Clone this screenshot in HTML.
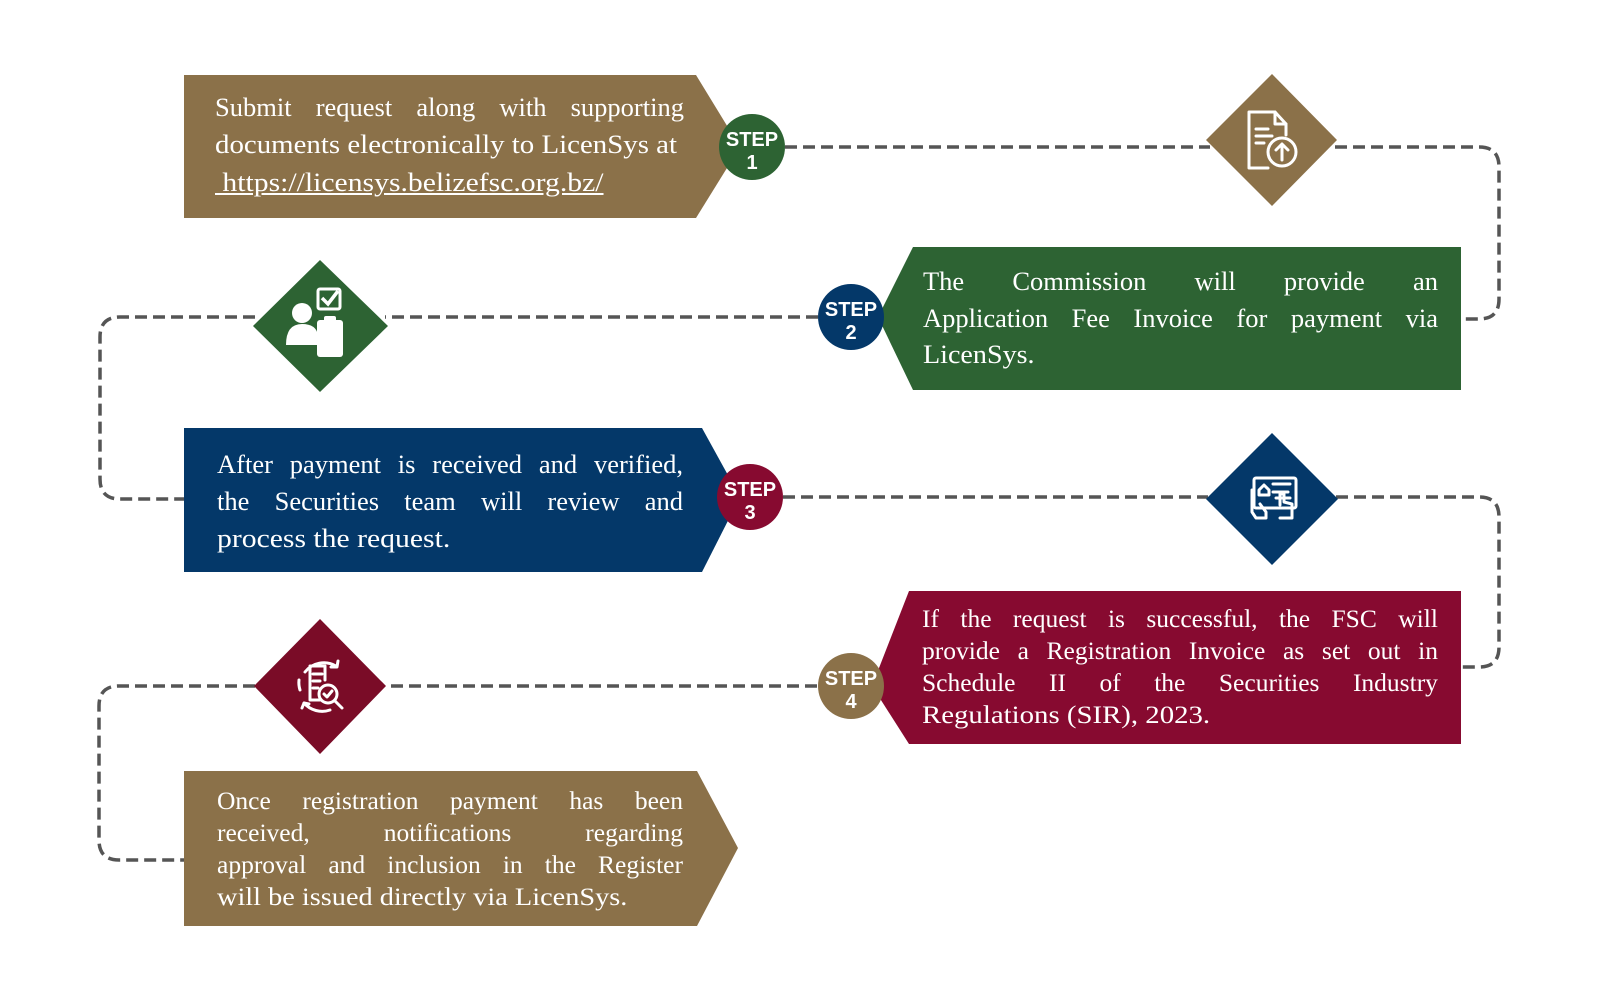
<!DOCTYPE html>
<html><head><meta charset="utf-8"><style>
html,body{margin:0;padding:0;background:#fff;}
#w{position:relative;width:1600px;height:1000px;overflow:hidden}
svg{display:block;position:absolute;left:0;top:0}
.s{font-family:"Liberation Sans",sans-serif;font-weight:bold;font-size:20px;fill:#fff;text-anchor:middle;}
.d{fill:none;stroke:#555;stroke-width:3.5;stroke-dasharray:12 6;}
.i{fill:none;stroke:#fff;stroke-width:3;stroke-linecap:round;stroke-linejoin:round;}
.l{position:absolute;height:30px;line-height:30px;font-family:"Liberation Serif",serif;color:#fff;white-space:nowrap;display:flex;justify-content:space-between}
.a{font-size:26.5px}
.b{font-size:25.5px}
.n{justify-content:flex-start;transform-origin:0 50%}
.n span{white-space:pre}
</style></head><body><div id="w">
<svg width="1600" height="1000" viewBox="0 0 1600 1000" xmlns="http://www.w3.org/2000/svg">
<path class="d" d="M785 147 H1210 M1335 147 H1479 Q1499 147 1499 167 V299 Q1499 319 1479 319 H1461"/>
<path class="d" d="M818 317 H385 M255 317 H120 Q100 317 100 337 V479 Q100 499 120 499 H184"/>
<path class="d" d="M783 497 H1208 M1336 497 H1479 Q1499 497 1499 517 V647 Q1499 667 1479 667 H1461"/>
<path class="d" d="M817 686 H385 M255 686 H119 Q99 686 99 706 V840 Q99 860 119 860 H184"/>

<polygon points="184,75 696,75 740,147 696,218 184,218" fill="#8B7149"/>
<polygon points="913,247 1461,247 1461,390 913,390 878,317" fill="#2D6333"/>
<polygon points="184,428 702,428 740,497 702,572 184,572" fill="#043869"/>
<polygon points="909,591 1461,591 1461,744 909,744 872,686" fill="#870A30"/>
<polygon points="184,771 697,771 738,848 697,926 184,926" fill="#8B7149"/>

<circle cx="752" cy="147" r="33" fill="#2D6333"/>
<text class="s" x="752" y="146">STEP</text><text class="s" x="752" y="169">1</text>
<circle cx="851" cy="317" r="33" fill="#043869"/>
<text class="s" x="851" y="316">STEP</text><text class="s" x="851" y="339">2</text>
<circle cx="750" cy="497" r="33" fill="#870A30"/>
<text class="s" x="750" y="496">STEP</text><text class="s" x="750" y="519">3</text>
<circle cx="851" cy="686" r="33" fill="#8B7149"/>
<text class="s" x="851" y="685">STEP</text><text class="s" x="851" y="708">4</text>

<polygon points="1272,74 1337,140 1272,206 1206,140" fill="#8B7149"/>
<g class="i">
<path d="M1268 168 H1249 V112 H1275 L1286 124 V135"/>
<path d="M1275 112 V124 H1286"/>
<line x1="1256" y1="129" x2="1268" y2="129"/><line x1="1256" y1="136" x2="1272" y2="136"/><line x1="1256" y1="143" x2="1264" y2="143"/>
<circle cx="1282" cy="152" r="14"/>
<path d="M1282 160 V145 M1276 150 L1282 144 L1288 150"/>
</g>

<polygon points="320,260 388,326 320,392 253,326" fill="#2D6333"/>
<g>
<rect x="318" y="289" width="22" height="20" rx="2" fill="none" stroke="#fff" stroke-width="3"/>
<path d="M322 298 L328 304 L338 291" fill="none" stroke="#fff" stroke-width="3.5"/>
<circle cx="302" cy="313" r="10" fill="#fff"/>
<path d="M286 345 Q286 324 302 324 Q316 324 318 335 V345 Z" fill="#fff"/>
<rect x="317" y="320" width="26" height="37" rx="3" fill="#fff"/>
<rect x="324" y="316" width="12" height="6" rx="2" fill="#fff"/>
</g>

<polygon points="1272,433 1338,499 1272,565 1206,499" fill="#043869"/>
<g class="i" stroke-width="2">
<rect x="1254" y="478" width="42" height="30" rx="2"/>
<path d="M1259 490 L1264 485 L1269 490 V495 H1259 Z"/>
<line x1="1273" y1="484" x2="1290" y2="484"/><line x1="1273" y1="492" x2="1288" y2="492"/><line x1="1276" y1="498" x2="1290" y2="498"/>
<path d="M1252 490 V512 L1256 518 H1266 V512 L1260 504"/>
<path d="M1280 505 V494 L1284 494 V502 L1292 504 V518 H1280"/>
</g>

<polygon points="320,619 386,686 320,754 254,686" fill="#7A0C27"/>
<g class="i" stroke-width="2.5">
<path d="M305 672 A24 24 0 0 1 336 666 M338 661 L337 667 L331 667"/>
<path d="M304 703 A24 24 0 0 0 330 710 M302 708 L304 703 L309 704"/>
<path d="M300 690 A24 24 0 0 1 299 680"/>
<path d="M320 700 H310 V666 H325 V680"/>
<line x1="313" y1="674" x2="322" y2="674"/><line x1="313" y1="681" x2="320" y2="681"/><line x1="313" y1="688" x2="318" y2="688"/>
<circle cx="328" cy="694" r="9"/>
<path d="M324 694 L327 697 L332 691"/>
<line x1="335" y1="701" x2="342" y2="708"/>
</g>
</svg>

<div class="l a" style="left:215px;top:92px;width:469px"><span>Submit</span><span>request</span><span>along</span><span>with</span><span>supporting</span></div>
<div class="l a n" style="left:215px;top:129px;width:469px;transform:scaleX(1.09)"><span>documents electronically to LicenSys at</span></div>
<div class="l a n" style="left:215px;top:167px;width:469px;transform:scaleX(1.12)"><span style="text-decoration:underline"> https://licensys.belizefsc.org.bz/</span></div>

<div class="l a" style="left:923px;top:266px;width:515px"><span>The</span><span>Commission</span><span>will</span><span>provide</span><span>an</span></div>
<div class="l a" style="left:923px;top:303px;width:515px"><span>Application</span><span>Fee</span><span>Invoice</span><span>for</span><span>payment</span><span>via</span></div>
<div class="l a n" style="left:923px;top:339px;width:515px;transform:scaleX(1.06)"><span>LicenSys.</span></div>

<div class="l a" style="left:217px;top:449px;width:466px"><span>After</span><span>payment</span><span>is</span><span>received</span><span>and</span><span>verified,</span></div>
<div class="l a" style="left:217px;top:486px;width:466px"><span>the</span><span>Securities</span><span>team</span><span>will</span><span>review</span><span>and</span></div>
<div class="l a n" style="left:217px;top:523px;width:466px;transform:scaleX(1.12)"><span>process the request.</span></div>

<div class="l b" style="left:922px;top:604px;width:516px"><span>If</span><span>the</span><span>request</span><span>is</span><span>successful,</span><span>the</span><span>FSC</span><span>will</span></div>
<div class="l b" style="left:922px;top:636px;width:516px"><span>provide</span><span>a</span><span>Registration</span><span>Invoice</span><span>as</span><span>set</span><span>out</span><span>in</span></div>
<div class="l b" style="left:922px;top:668px;width:516px"><span>Schedule</span><span>II</span><span>of</span><span>the</span><span>Securities</span><span>Industry</span></div>
<div class="l b n" style="left:922px;top:700px;width:516px;transform:scaleX(1.13)"><span>Regulations (SIR), 2023.</span></div>

<div class="l b" style="left:217px;top:786px;width:466px"><span>Once</span><span>registration</span><span>payment</span><span>has</span><span>been</span></div>
<div class="l b" style="left:217px;top:818px;width:466px"><span>received,</span><span>notifications</span><span>regarding</span></div>
<div class="l b" style="left:217px;top:850px;width:466px"><span>approval</span><span>and</span><span>inclusion</span><span>in</span><span>the</span><span>Register</span></div>
<div class="l b n" style="left:217px;top:882px;width:466px;transform:scaleX(1.11)"><span>will be issued directly via LicenSys.</span></div>
</div></body></html>
